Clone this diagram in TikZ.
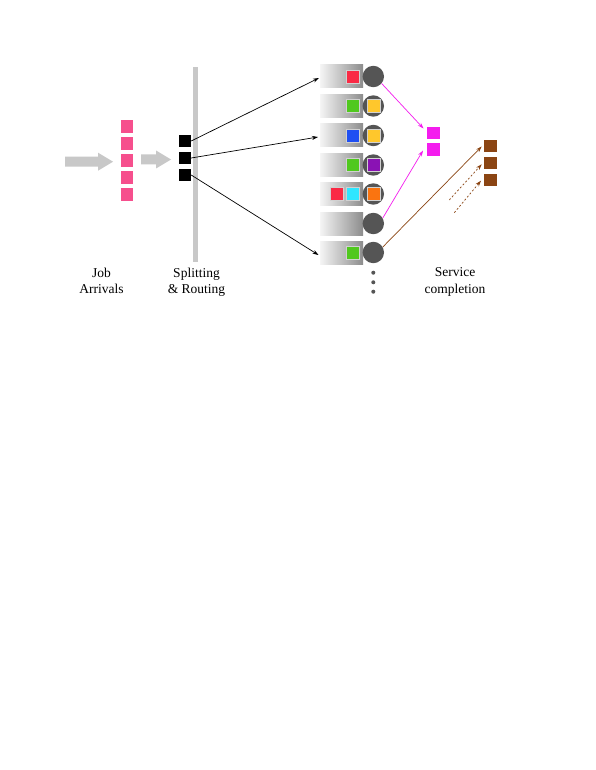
\documentclass[tikz,border=0pt]{standalone}
\usepackage{fontspec}
\setmainfont{Liberation Serif}
\usetikzlibrary{arrows.meta}
\definecolor{jobpink}{HTML}{F64F8D}
\definecolor{tred}{HTML}{FA2A45}
\definecolor{tgreen}{HTML}{50C81E}
\definecolor{tyellow}{HTML}{FFC72C}
\definecolor{tblue}{HTML}{1F4FF2}
\definecolor{tpurple}{HTML}{8A12B4}
\definecolor{torange}{HTML}{FA7410}
\definecolor{tcyan}{HTML}{2EE6FF}
\definecolor{tmag}{HTML}{F41CEE}
\definecolor{tbrown}{HTML}{8B4513}
\definecolor{srvgray}{HTML}{555555}
\definecolor{bargray}{HTML}{C8C8C8}
\tikzset{
  jobsq/.style={rectangle, minimum size=12.5pt, inner sep=0pt, fill=jobpink},
  tasksq/.style={rectangle, minimum size=12pt, inner sep=0pt, fill=black},
  queuebox/.style={rectangle, minimum width=43pt, minimum height=23pt, inner sep=0pt, left color=white!96!black, right color=black!45},
  server/.style={circle, minimum size=21.4pt, inner sep=0pt, fill=srvgray},
  tsk/.style={rectangle, minimum size=13pt, inner sep=0pt, draw=white!82!black, line width=0.9pt, fill=#1},
  donesq/.style={rectangle, minimum size=12.5pt, inner sep=0pt, fill=#1},
  lbl/.style={align=center, anchor=north, inner sep=0pt, font=\fontsize{13.5}{16.5}\selectfont},
  blk/.style={-{Stealth[length=6pt,width=4pt]}, line width=0.7pt, black},
  tip/.style={-{Stealth[length=6pt,width=4pt]}, line width=0.7pt, #1},
}
\begin{document}
\begin{tikzpicture}[x=1pt,y=-1pt]
\useasboundingbox[fill=white] (0,0) rectangle (595,770);
% gray arrows and bar
\fill[bargray] (65,156.7) -- (98,156.7) -- (98,152.7) -- (113,161.7) -- (98,170.7) -- (98,166.7) -- (65,166.7) -- cycle;
\fill[bargray] (141,154.5) -- (156,154.5) -- (156,150.5) -- (171,159.5) -- (156,168.5) -- (156,164.5) -- (141,164.5) -- cycle;
\fill[bargray] (193,67) rectangle (198,262);
% job arrivals
\foreach \i/\y in {1/126.5,2/143.5,3/160.5,4/177.5,5/194.5}
  \node[jobsq] (j\i) at (127,\y) {};
% split tasks
\node[tasksq] (s1) at (185,141) {};
\node[tasksq] (s2) at (185,158) {};
\node[tasksq] (s3) at (185,175) {};
% queues and servers
\foreach \i/\y in {1/76.5,2/106,3/135.5,4/165,5/194,6/223.5,7/252.5}{
  \node[queuebox] (q\i) at (341.5,\y) {};
  \node[server] (c\i) at (373.3,\y) {};
}
% tasks in queues
\node[tsk=tred] (a1) at (353.3,76.5) {};
\node[tsk=tgreen] (a2) at (353.3,106) {};
\node[tsk=tyellow] (b2) at (374,106) {};
\node[tsk=tblue] (a3) at (353.3,135.5) {};
\node[tsk=tyellow] (b3) at (374,135.5) {};
\node[tsk=tgreen] (a4) at (353.3,165) {};
\node[tsk=tpurple] (b4) at (374,165) {};
\node[tsk=tred] (a5) at (337.3,194) {};
\node[tsk=tcyan] (a5b) at (353.3,194) {};
\node[tsk=torange] (b5) at (374,194) {};
\node[tsk=tgreen] (a7) at (353.3,252.5) {};
% dots
\foreach \i/\y in {1/272.7,2/282.3,3/291.7}
  \fill[srvgray] (373.3,\y) circle (2pt) coordinate (d\i);
% completed
\node[donesq=tmag] (m1) at (433.5,133) {};
\node[donesq=tmag] (m2) at (433.5,149.5) {};
\node[donesq=tbrown] (r1) at (490.5,146) {};
\node[donesq=tbrown] (r2) at (490.5,163) {};
\node[donesq=tbrown] (r3) at (490.5,180) {};
% routing arrows
\coordinate (e1) at (319,78);
\coordinate (e2) at (318,137);
\coordinate (e3) at (318.5,255);
\draw[blk] (s1.east) -- (e1);
\draw[blk] (s2.east) -- (e2);
\draw[blk] (s3.east) -- (e3);
% completion arrows
\coordinate (f1) at (423.5,128.5);
\coordinate (f2) at (423,150.5);
\draw[tip=tmag] (c1.-40) -- (f1);
\draw[tip=tmag] (c6.30) -- (f2);
\coordinate (g1) at (481.7,146.5);
\draw[tip=tbrown] (c7.30) -- (g1);
\coordinate (h1s) at (449.3,200);
\coordinate (h1) at (481.7,164.3);
\coordinate (h2s) at (454.3,212.7);
\coordinate (h2) at (481,180.7);
\draw[tip=tbrown, dash pattern=on 2pt off 2pt] (h1s) -- (h1);
\draw[tip=tbrown, dash pattern=on 2pt off 2pt] (h2s) -- (h2);
% labels
\node[lbl] (l1) at (101.5,267.5) {Job\\Arrivals};
\node[lbl] (l2) at (196.5,267.5) {Splitting\\\& Routing};
\node[lbl] (l3) at (455,267.5) {Service\\completion};
\end{tikzpicture}
\end{document}
